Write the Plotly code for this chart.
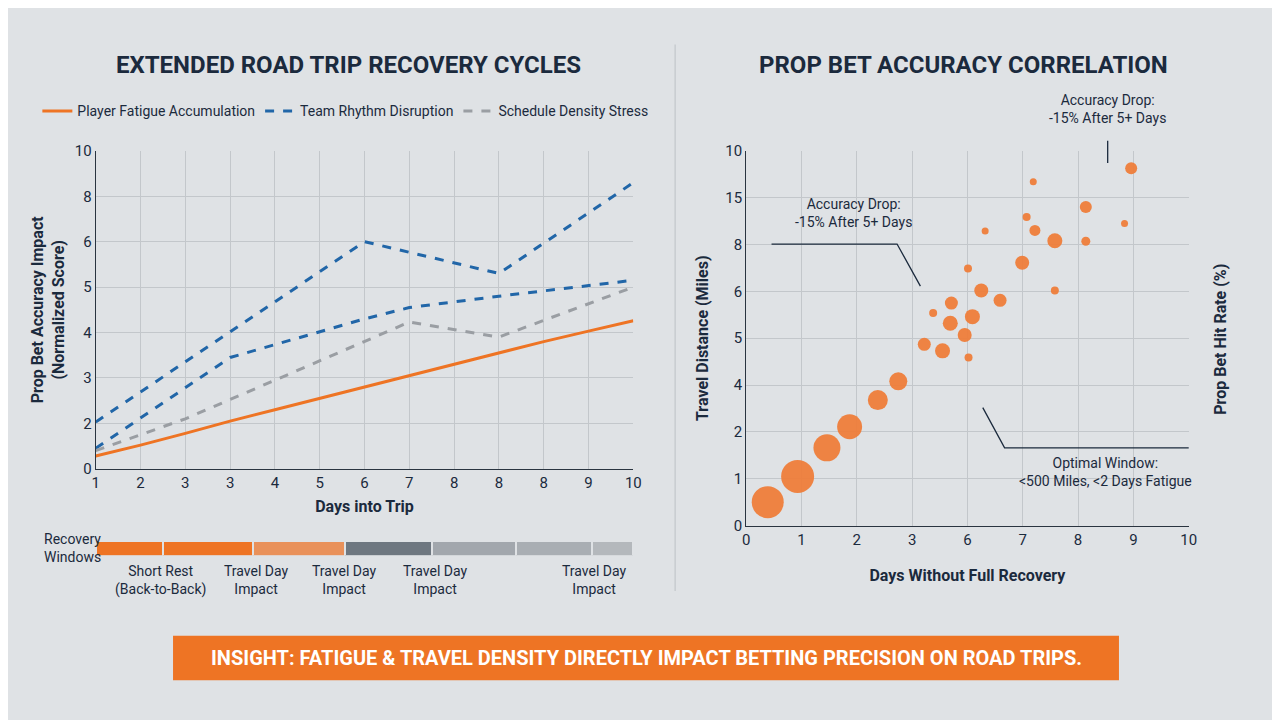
import plotly.graph_objects as go

# ---- left chart data (positional x, labels are not monotonic) ----
day_labels = ['1', '2', '3', '3', '4', '5', '6', '7', '8', '8', '8', '9', '10']
score_labels = ['0', '2', '3', '4', '5', '6', '8', '10']
day_pos = list(range(13))

fatigue = [0.28, 0.52, 0.78, 1.05, 1.3, 1.55, 1.8, 2.05, 2.3, 2.55, 2.8, 3.03, 3.26]
rhythm_x = [0, 6, 9, 12]
rhythm_hi = [1.03, 5.0, 4.3, 6.3]
rhythm_lo_x = [0, 3, 6, 7, 9, 12]
rhythm_lo = [0.45, 2.45, 3.3, 3.55, 3.8, 4.15]
density_x = [0, 2, 4, 6, 7, 9, 12]
density = [0.4, 1.1, 1.95, 2.8, 3.23, 2.9, 4.0]

# recovery windows strip
window_len = [67, 89, 91, 86, 83, 75, 41]
window_col = ['#ee7424', '#ee7424', '#e9915a', '#6e7780', '#a2a7ad', '#a9aeb3', '#b4b8bc']
window_text = ['Short Rest<br>(Back-to-Back)', 'Travel Day<br>Impact', 'Travel Day<br>Impact',
               'Travel Day<br>Impact', 'Travel Day<br>Impact']
window_text_x = [64, 159, 246, 336, 494]

# ---- right chart data ----
rec_labels = ['0', '1', '2', '3', '6', '7', '8', '9', '10']
miles_labels = ['0', '1', '2', '4', '5', '6', '8', '15', '10']
bx = [0.39, 0.93, 1.46, 1.87, 2.38, 2.75, 3.22, 3.55, 3.38, 3.71, 3.69, 3.95, 4.09, 4.02,
      4.01, 4.25, 4.59, 4.32, 4.99, 5.07, 5.19, 5.22, 5.58, 5.58, 6.14, 6.14, 6.84, 6.96]
by = [0.50, 1.05, 1.66, 2.11, 2.68, 3.08, 3.87, 3.73, 4.54, 4.75, 4.32, 4.07, 4.46, 3.59,
      5.49, 5.02, 4.81, 6.29, 5.61, 6.59, 7.34, 6.30, 6.08, 5.02, 6.80, 6.07, 6.45, 7.63]
bsize = [32, 33, 27, 25, 20, 18, 13, 15, 8, 13, 15, 14, 15, 8, 8, 14, 13, 7, 14, 8, 7, 11,
         15, 8, 12, 9, 7, 12]

NAVY = '#1b2a3d'
BG = '#dfe2e5'
GRID = '#c3c7cb'
ORANGE = '#ee7424'
BLUE = '#2166a8'
GRAY = '#9a9ea3'


def fy(f):
    # page renders slightly squashed vertically; compensate paper y
    t = (1 - f) * 720
    t2 = 657 - (657 - t) / 0.976
    return 1 - t2 / 720


fig = go.Figure()
fig.add_trace(go.Scatter(x=day_pos, y=fatigue, mode='lines', name='Player Fatigue Accumulation',
                         line=dict(color=ORANGE, width=3), xaxis='x', yaxis='y'))
fig.add_trace(go.Scatter(x=rhythm_x, y=rhythm_hi, mode='lines', name='Team Rhythm Disruption',
                         line=dict(color=BLUE, width=3, dash='dash'), xaxis='x', yaxis='y'))
fig.add_trace(go.Scatter(x=rhythm_lo_x, y=rhythm_lo, mode='lines', showlegend=False,
                         line=dict(color=BLUE, width=3, dash='dash'), xaxis='x', yaxis='y'))
fig.add_trace(go.Scatter(x=density_x, y=density, mode='lines', name='Schedule Density Stress',
                         line=dict(color=GRAY, width=3, dash='dash'), xaxis='x', yaxis='y'))

for L, c in zip(window_len, window_col):
    fig.add_trace(go.Bar(x=[L], y=[0], orientation='h', marker=dict(color=c, line=dict(color=BG, width=2)),
                         width=1, showlegend=False, xaxis='x3', yaxis='y3', hoverinfo='skip'))

fig.add_trace(go.Scatter(x=bx, y=by, mode='markers', showlegend=False, xaxis='x2', yaxis='y2',
                         marker=dict(size=bsize, sizemode='diameter', color='#ee7d3a', opacity=0.95,
                                     line=dict(width=0))))

ax = dict(showgrid=True, gridcolor=GRID, zeroline=False, showline=True, linecolor='#2a3440',
          tickfont=dict(size=15, color=NAVY), ticks='')
fig.update_layout(
    width=1280, height=720, paper_bgcolor=BG, plot_bgcolor=BG,
    font=dict(family='Roboto, Liberation Sans, sans-serif', color=NAVY),
    margin=dict(l=0, r=0, t=0, b=0), barmode='stack',
    xaxis=dict(ax, domain=[0.066, 0.49], range=[0, 12], tickvals=day_pos, ticktext=day_labels,
               title=dict(text='<b>Days into Trip</b>', font=dict(size=16), standoff=10), mirror=False),
    yaxis=dict(ax, domain=[fy(0.35), fy(0.792)], range=[0, 7], tickvals=list(range(8)), ticktext=score_labels,
               title=dict(text='<b>Prop Bet Accuracy Impact<br>(Normalized Score)</b>', font=dict(size=16), standoff=6)),
    xaxis2=dict(ax, domain=[0.579, 0.928], range=[0, 8], tickvals=list(range(9)), ticktext=rec_labels,
                title=dict(text='<b>Days Without Full Recovery</b>', font=dict(size=16), standoff=22), anchor='y2'),
    yaxis2=dict(ax, domain=[fy(0.271), fy(0.792)], range=[0, 8], tickvals=list(range(9)), ticktext=miles_labels,
                title=dict(text='<b>Travel Distance (Miles)</b>', font=dict(size=16), standoff=12), anchor='x2'),
    xaxis3=dict(domain=[0.066, 0.49], range=[0, 532], visible=False, anchor='y3'),
    yaxis3=dict(domain=[fy(0.229), fy(0.25)], range=[-0.5, 0.5], visible=False, anchor='x3'),
    legend=dict(orientation='h', x=0.02, y=fy(0.847), xanchor='left', yanchor='middle', traceorder='normal',
                font=dict(size=14, color=NAVY), bgcolor='rgba(0,0,0,0)'),
    showlegend=True,
)

ann = [
    dict(text='<b>EXTENDED ROAD TRIP RECOVERY CYCLES</b>', x=0.265, y=0.912, font=dict(size=24)),
    dict(text='<b>PROP BET ACCURACY CORRELATION</b>', x=0.75, y=0.912, font=dict(size=24)),
    dict(text='<b>Prop Bet Hit Rate (%)</b>', x=0.953, y=0.53, textangle=-90, font=dict(size=16)),
    dict(text='Accuracy Drop:<br>-15% After 5+ Days', x=0.864, y=0.85, font=dict(size=14)),
    dict(text='Accuracy Drop:<br>-15% After 5+ Days', x=0.664, y=0.705, font=dict(size=14)),
    dict(text='Optimal Window:<br><500 Miles, <2 Days Fatigue', x=0.862, y=0.345, font=dict(size=14)),
    dict(text='<b>INSIGHT: FATIGUE & TRAVEL DENSITY DIRECTLY IMPACT BETTING PRECISION ON ROAD TRIPS.</b>',
         x=0.5, y=0.0875, font=dict(size=20, color='white')),
]
for a in ann:
    a['y'] = fy(a['y'])
    fig.add_annotation(xref='paper', yref='paper', showarrow=False, xanchor='center', yanchor='middle', **a)
fig.add_annotation(xref='paper', yref='paper', x=0.024, y=fy(0.24), text='Recovery<br>Windows', showarrow=False,
                   xanchor='left', yanchor='middle', align='left', font=dict(size=14))
for t, xp in zip(window_text, window_text_x):
    fig.add_annotation(xref='x3', yref='paper', x=xp, y=fy(0.222), text=t, showarrow=False,
                       font=dict(size=14, color=NAVY), xanchor='center', yanchor='top')

shapes = [
    dict(type='rect', xref='paper', yref='paper', x0=0.127, x1=0.873, y0=fy(0.056), y1=fy(0.118),
         fillcolor=ORANGE, line=dict(width=0)),
    dict(type='line', xref='paper', yref='paper', x0=0.523, x1=0.523, y0=fy(0.18), y1=fy(0.94),
         line=dict(color='#c8ccd0', width=1.5)),
    dict(type='path', xref='paper', yref='paper', line=dict(color=NAVY, width=1.3),
         path='M 0.8641 %.4f L 0.8641 %.4f' % (fy(0.806), fy(0.775))),
    dict(type='path', xref='paper', yref='paper', line=dict(color=NAVY, width=1.3),
         path='M 0.599 %.4f L 0.698 %.4f L 0.7164 %.4f' % (fy(0.6625), fy(0.6625), fy(0.604))),
    dict(type='path', xref='paper', yref='paper', line=dict(color=NAVY, width=1.3),
         path='M 0.7656 %.4f L 0.7828 %.4f L 0.928 %.4f' % (fy(0.435), fy(0.379), fy(0.379))),
]
fig.update_layout(shapes=shapes)
fig.write_html('out.html')
